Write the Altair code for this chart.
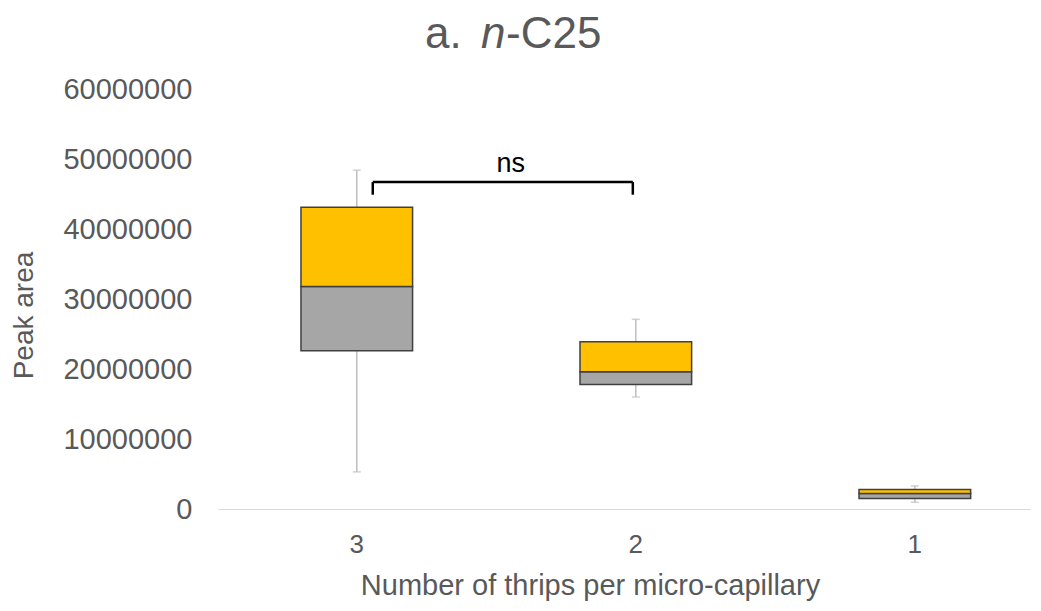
import altair as alt
import pandas as pd

# ---- data ----
categories = ["3", "2", "1"]
whisker_min = [5300000, 16000000, 960000]
q1 = [22600000, 17800000, 1500000]
median = [31800000, 19600000, 2200000]
q3 = [43100000, 23900000, 2800000]
whisker_max = [48400000, 27100000, 3300000]

bracket_from = ["3"]
bracket_to = ["2"]
bracket_top = [46700000]
bracket_bottom = [44900000]
sig_label = ["ns"]
sig_y = [48100000]

df = pd.DataFrame({
    "cat": categories, "wmin": whisker_min, "q1": q1, "med": median,
    "q3": q3, "wmax": whisker_max,
})
br = pd.DataFrame({"a": bracket_from, "b": bracket_to, "top": bracket_top,
                   "bot": bracket_bottom, "label": sig_label, "ly": sig_y})

FONT = "Liberation Sans"
GREY_TXT = "#595959"

xscale = alt.Scale(domain=categories, paddingInner=0.6, paddingOuter=0.255, align=0.583)
yscale = alt.Scale(domain=[0, 60000000], nice=False)

xenc = alt.X("cat:N", scale=xscale, sort=categories,
             axis=alt.Axis(title="Number of thrips per micro-capillary", labelAngle=0,
                           labelFontSize=26, labelColor=GREY_TXT, labelFont=FONT,
                           labelPadding=22, ticks=False, domainColor="#D9D9D9",
                           domainWidth=1, titleFont=FONT, titleFontSize=29,
                           titleFontWeight="normal", titleColor=GREY_TXT,
                           titleX=372, titleY=85, titleAlign="center",
                           titleBaseline="alphabetic"))
yaxis = alt.Axis(title="Peak area", values=[0, 10000000, 20000000, 30000000, 40000000,
                                            50000000, 60000000],
                 format="d", grid=False, domain=False, ticks=False,
                 labelFontSize=29, labelColor=GREY_TXT, labelFont=FONT, labelPadding=26,
                 titleFont=FONT, titleFontSize=28, titleFontWeight="normal",
                 titleColor=GREY_TXT, titleX=-194, titleY=226, titleAngle=270,
                 titleAlign="center", titleBaseline="middle")

base = alt.Chart(df)

whisk_lo = base.mark_rule(color="#BFBFBF", strokeWidth=1.5).encode(
    x=xenc, y=alt.Y("wmin:Q", scale=yscale, axis=yaxis), y2="q1:Q")
whisk_hi = base.mark_rule(color="#BFBFBF", strokeWidth=1.5).encode(
    x=alt.X("cat:N", sort=categories), y="q3:Q", y2="wmax:Q")
cap_lo = base.mark_tick(color="#BFBFBF", size=8, thickness=1.5, orient="horizontal").encode(
    x=alt.X("cat:N", sort=categories), y="wmin:Q")
cap_hi = base.mark_tick(color="#BFBFBF", size=8, thickness=1.5, orient="horizontal").encode(
    x=alt.X("cat:N", sort=categories), y="wmax:Q")
box_lo = base.mark_bar(color="#A6A6A6", stroke="#404040", strokeWidth=1.5).encode(
    x=alt.X("cat:N", sort=categories), y="q1:Q", y2="med:Q")
box_hi = base.mark_bar(color="#FFC000", stroke="#404040", strokeWidth=1.5).encode(
    x=alt.X("cat:N", sort=categories), y="med:Q", y2="q3:Q")

bb = alt.Chart(br)
br_h = bb.mark_rule(color="black", strokeWidth=2.5, xOffset=16, x2Offset=-3).encode(
    x=alt.X("a:N", sort=categories), x2="b:N", y="top:Q")
br_l = bb.mark_rule(color="black", strokeWidth=2.5, xOffset=16).encode(
    x=alt.X("a:N", sort=categories), y="top:Q", y2="bot:Q")
br_r = bb.mark_rule(color="black", strokeWidth=2.5, xOffset=-3).encode(
    x=alt.X("b:N", sort=categories), y="top:Q", y2="bot:Q")
ns = bb.mark_text(font=FONT, fontSize=27, color="black", dx=154,
                  baseline="alphabetic").encode(
    x=alt.X("a:N", sort=categories), y="ly:Q", text="label:N")

# title "a. n-C25" with italic n
t_df = pd.DataFrame({"t": [0]})
tb = alt.Chart(t_df)
t1 = tb.mark_text(text="a.", font=FONT, fontSize=44, color=GREY_TXT, align="left",
                  baseline="alphabetic").encode(x=alt.value(207), y=alt.value(-41))
t2 = tb.mark_text(text="n", font=FONT, fontSize=44, fontStyle="italic", color=GREY_TXT,
                  align="left", baseline="alphabetic").encode(x=alt.value(263), y=alt.value(-41))
t3 = tb.mark_text(text="-C25", font=FONT, fontSize=44, color=GREY_TXT, align="left",
                  baseline="alphabetic").encode(x=alt.value(288), y=alt.value(-41))

chart = alt.layer(whisk_lo, whisk_hi, cap_lo, cap_hi, box_lo, box_hi,
                  br_h, br_l, br_r, ns, t1, t2, t3).properties(
    width=812, height=420,
    background="white",
    padding={"left": 210, "top": 81, "right": 3, "bottom": 94},
    autosize=alt.AutoSizeParams(type="none"),
).configure_view(strokeWidth=0)

chart.save("out.html", embed_options={"renderer": "svg", "actions": False})
